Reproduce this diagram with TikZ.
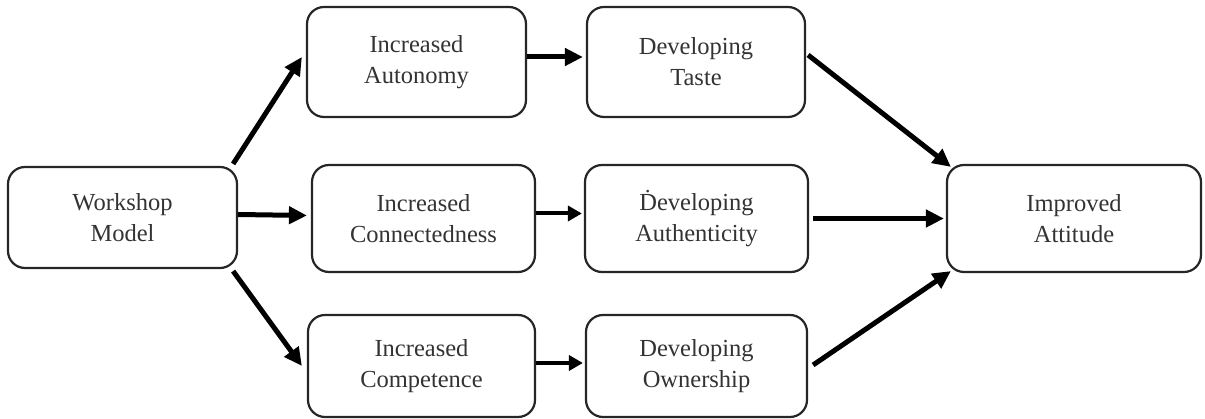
\documentclass[tikz,border=0pt]{standalone}
\usepackage{fontspec}
\setmainfont{Liberation Serif}
\usetikzlibrary{arrows.meta}
\begin{document}
\begin{tikzpicture}[x=1pt,y=-1pt,
  box/.style={draw=black!85, line width=2.2pt, rounded corners=17pt, align=center,
    font=\fontsize{24.5}{31}\selectfont, text=black!80, inner sep=0pt},
  arr/.style={draw=black, line width=5pt, -{Triangle[length=18pt,width=17pt]}},
  arrthin/.style={draw=black, line width=4pt, -{Triangle[length=14pt,width=15pt]}}]
\useasboundingbox (0,0) rectangle (1205,419);
\node[box, minimum width=229pt, minimum height=101pt] (W)  at (122.5,217.5) {Workshop\\Model};
\node[box, minimum width=219pt, minimum height=110pt] (A)  at (416.5,62)    {Increased\\Autonomy};
\node[box, minimum width=218pt, minimum height=110pt] (T)  at (696,62)      {Developing\\Taste};
\node[box, minimum width=223pt, minimum height=107pt] (Cn) at (423.5,218.5) {Increased\\Connectedness};
\node[box, minimum width=223pt, minimum height=107pt] (Au) at (696.5,218.5) {\.{D}eveloping\\Authenticity};
\node[box, minimum width=227pt, minimum height=102pt] (Cp) at (421.5,366)   {Increased\\Competence};
\node[box, minimum width=221pt, minimum height=102pt] (O)  at (696.5,366)   {Developing\\Ownership};
\node[box, minimum width=254pt, minimum height=107pt] (I)  at (1074,218.5)  {Improved\\Attitude};
% connectors
\draw[arr] ([xshift=-5pt,yshift=2pt]W.north east) -- ([xshift=-4pt,yshift=5pt]A.west);
\draw[arr] ([yshift=3pt]W.east) -- ([xshift=-4pt,yshift=3pt]Cn.west);
\draw[arr] ([xshift=-5pt,yshift=-2pt]W.south east) -- ([xshift=-5pt]Cp.west);
\draw[arr] ([yshift=5pt]A.east) -- ([xshift=-3pt,yshift=5pt]T.west);
\draw[arrthin] ([yshift=5pt]Cn.east) -- ([xshift=-2pt,yshift=5pt]Au.west);
\draw[arrthin] ([yshift=3pt]Cp.east) -- ([xshift=-2pt,yshift=3pt]O.west);
\draw[arr] ([xshift=2pt,yshift=7pt]T.east) -- ([xshift=5pt,yshift=-3pt]I.north west);
\draw[arr] ([xshift=4pt]Au.east) -- ([xshift=-2pt]I.west);
\draw[arr] ([xshift=5pt,yshift=1pt]O.east) -- ([xshift=5pt,yshift=2pt]I.south west);
\end{tikzpicture}
\end{document}
